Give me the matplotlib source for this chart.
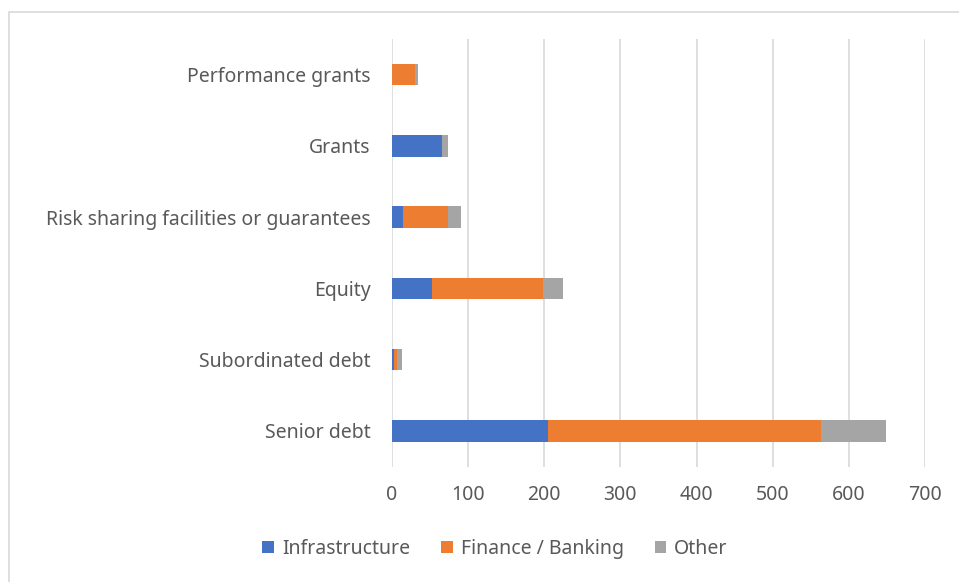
import matplotlib
matplotlib.use("Agg")
import matplotlib.pyplot as plt
from matplotlib.patches import Rectangle

categories = ["Senior debt", "Subordinated debt", "Equity",
              "Risk sharing facilities or guarantees", "Grants", "Performance grants"]
infrastructure = [205, 3, 52, 14, 66, 0]
finance_banking = [358, 3, 146, 60, 0, 30]
other = [86, 7, 26, 16, 8, 4.5]
x_ticks = [0, 100, 200, 300, 400, 500, 600, 700]

plt.rcParams["font.family"] = ["Noto Sans", "DejaVu Sans"]
text_color = "#595959"

fig = plt.figure(figsize=(9.59, 5.82), dpi=100)
ax = fig.add_axes([392 / 959, (582 - 466.5) / 582, (925 - 392) / 959, (466.5 - 39) / 582])

# chart frame (only left and top edges visible in the crop)
fig.add_artist(Rectangle((9 / 959, -0.1), 1.2, (582 - 12) / 582 + 0.1,
                         transform=fig.transFigure, fill=False,
                         edgecolor="#d9d9d9", linewidth=1.2))

y = range(len(categories))
h = 0.3
left2 = [a + b for a, b in zip(infrastructure, finance_banking)]
ax.barh(y, infrastructure, height=h, color="#4472c4", label="Infrastructure")
ax.barh(y, finance_banking, left=infrastructure, height=h, color="#ed7d31", label="Finance / Banking")
ax.barh(y, other, left=left2, height=h, color="#a5a5a5", label="Other")

ax.set_xlim(0, 700)
ax.set_ylim(-0.5, len(categories) - 0.5)
ax.set_xticks(x_ticks)
ax.set_yticks(list(y))
ax.set_yticklabels(categories)
ax.tick_params(axis="both", length=0, colors=text_color, labelsize=14)
ax.tick_params(axis="y", pad=15.5)
ax.tick_params(axis="x", pad=13)
for s in ax.spines.values():
    s.set_visible(False)
ax.grid(axis="x", color="#d9d9d9", linewidth=1.2)
ax.set_axisbelow(True)

fig.legend(loc="center", bbox_to_anchor=(495 / 959, (582 - 549) / 582), ncol=3,
           frameon=False, fontsize=14, labelcolor=text_color,
           handlelength=0.6, handleheight=0.6, handletextpad=0.4, columnspacing=1.6)

fig.savefig("out.png", dpi=100)
